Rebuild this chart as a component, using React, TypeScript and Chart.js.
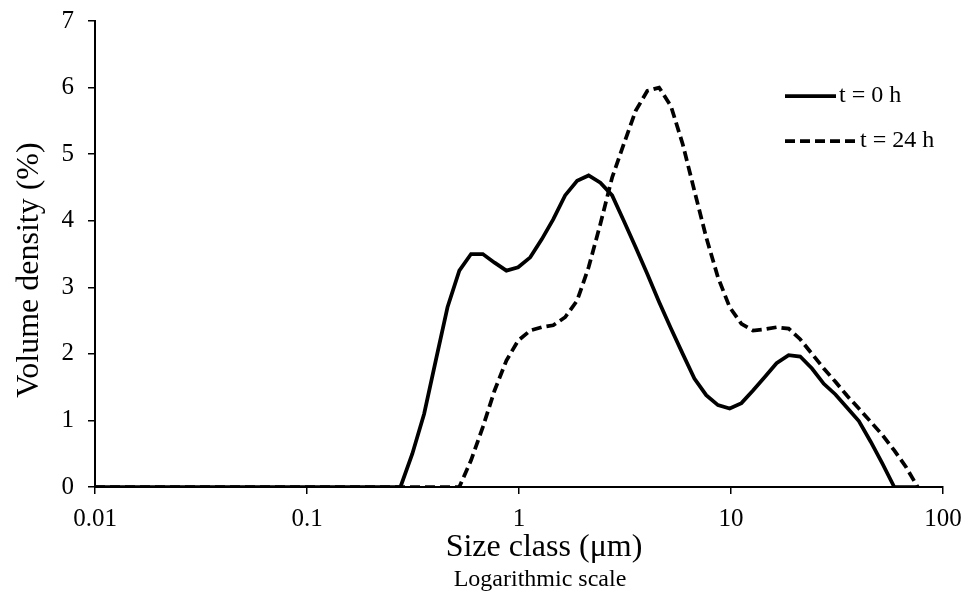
import { useEffect, useRef } from "react";
import { Chart, registerables } from "chart.js";

Chart.register(...registerables);

// Size classes (µm)
const sizes = [
  0.01, 0.0114, 0.0129, 0.0147, 0.0167, 0.0189, 0.0215, 0.0244, 0.0278, 0.0315,
  0.0358, 0.0407, 0.0463, 0.0526, 0.0597, 0.0679, 0.0771, 0.0876, 0.0995, 0.113,
  0.128, 0.146, 0.166, 0.188, 0.214, 0.243, 0.276, 0.314, 0.357, 0.405,
  0.46, 0.523, 0.594, 0.675, 0.767, 0.872, 0.991, 1.13, 1.28, 1.45,
  1.65, 1.88, 2.13, 2.42, 2.75, 3.12, 3.55, 4.03, 4.58, 5.21,
  5.92, 6.72, 7.64, 8.68, 9.86, 11.2, 12.7, 14.5, 16.4, 18.7,
  21.2, 24.1, 27.4, 31.1, 35.3, 40.1, 45.6, 51.8, 58.9, 66.9,
  76.0,
];

// Volume density (%) at t = 0 h
const t0 = [
  0, 0, 0, 0, 0, 0, 0, 0, 0, 0,
  0, 0, 0, 0, 0, 0, 0, 0, 0, 0,
  0, 0, 0, 0, 0, 0, 0, 0.5, 1.1, 1.9,
  2.7, 3.25, 3.5, 3.5, 3.37, 3.25, 3.3, 3.45, 3.72, 4.02,
  4.38, 4.6, 4.68, 4.57, 4.38, 4.0, 3.6, 3.2, 2.78, 2.38,
  2.0, 1.63, 1.38, 1.23, 1.18, 1.26, 1.45, 1.66, 1.86, 1.98,
  1.96, 1.78, 1.55, 1.39, 1.19, 0.99, 0.68, 0.35, 0, 0,
  0,
];

// Volume density (%) at t = 24 h
const t24 = [
  0, 0, 0, 0, 0, 0, 0, 0, 0, 0,
  0, 0, 0, 0, 0, 0, 0, 0, 0, 0,
  0, 0, 0, 0, 0, 0, 0, 0, 0, 0,
  0, 0, 0.4, 0.9, 1.45, 1.9, 2.2, 2.35, 2.4, 2.43,
  2.55, 2.8, 3.3, 3.95, 4.65, 5.15, 5.65, 5.95, 6.0, 5.72,
  5.15, 4.45, 3.75, 3.15, 2.7, 2.45, 2.35, 2.37, 2.4, 2.38,
  2.22, 2.0, 1.78, 1.58, 1.37, 1.18, 0.98, 0.78, 0.55, 0.3,
  0,
];

const seriesNames = ["t = 0 h", "t = 24 h"];
const xTickValues = [0.01, 0.1, 1, 10, 100];
const xTickLabels = ["0.01", "0.1", "1", "10", "100"];
const yMin = 0;
const yMax = 7;
const xTitle = "Size class (μm)";
const xSubtitle = "Logarithmic scale";
const yTitle = "Volume density (%)";

const FONT = "'Liberation Serif', 'Times New Roman', serif";

export default function App() {
  const ref = useRef<HTMLCanvasElement | null>(null);

  useEffect(() => {
    document.body.style.margin = "0";
    const canvas = ref.current;
    if (!canvas) return;

    const legendPlugin = {
      id: "customLegend",
      afterDraw(chart: any) {
        const ctx = chart.ctx;
        const ys = [96, 141];
        const lineEnds = [836, 857];
        const x0 = 785;
        chart.data.datasets.forEach((ds: any, i: number) => {
          ctx.save();
          ctx.strokeStyle = ds.borderColor;
          ctx.lineWidth = ds.borderWidth;
          ctx.setLineDash(ds.borderDash || []);
          ctx.lineCap = "butt";
          ctx.beginPath();
          ctx.moveTo(x0, ys[i]);
          ctx.lineTo(lineEnds[i], ys[i]);
          ctx.stroke();
          ctx.setLineDash([]);
          ctx.fillStyle = "#000";
          ctx.font = `24px ${FONT}`;
          ctx.textBaseline = "middle";
          ctx.textAlign = "left";
          ctx.fillText(ds.label, lineEnds[i] + 3, ys[i]);
          ctx.restore();
        });
      },
    };

    const titlesPlugin = {
      id: "axisTitles",
      afterDraw(chart: any) {
        const ctx = chart.ctx;
        ctx.save();
        ctx.fillStyle = "#000";
        ctx.textAlign = "center";
        ctx.textBaseline = "middle";
        // y title
        ctx.save();
        ctx.translate(30, 270);
        ctx.rotate(-Math.PI / 2);
        ctx.font = `32px ${FONT}`;
        ctx.fillText(yTitle, 0, 0);
        ctx.restore();
        // x title
        ctx.font = `32px ${FONT}`;
        ctx.fillText(xTitle, 544, 548);
        // subtitle
        ctx.font = `24px ${FONT}`;
        ctx.fillText(xSubtitle, 540, 580);
        ctx.restore();
      },
    };

    const chart = new Chart(canvas, {
      type: "line",
      data: {
        datasets: [
          {
            label: seriesNames[0],
            data: sizes.map((s, i) => ({ x: s, y: t0[i] })),
            borderColor: "#000",
            borderWidth: 3.75,
            pointRadius: 0,
            pointHoverRadius: 0,
            pointBorderWidth: 0,
            tension: 0,
            fill: false,
          },
          {
            label: seriesNames[1],
            data: sizes.map((s, i) => ({ x: s, y: t24[i] })),
            borderColor: "#000",
            borderWidth: 3.75,
            borderDash: [10, 5],
            pointRadius: 0,
            pointHoverRadius: 0,
            pointBorderWidth: 0,
            tension: 0,
            fill: false,
          },
        ],
      },
      options: {
        responsive: false,
        animation: false,
        layout: { autoPadding: false, padding: { left: 0, right: 26, top: 21, bottom: 0 } },
        plugins: {
          legend: { display: false },
          tooltip: { enabled: false },
          title: { display: false },
        },
        scales: {
          x: {
            type: "logarithmic",
            min: xTickValues[0],
            max: xTickValues[xTickValues.length - 1],
            afterBuildTicks: (scale: any) => {
              scale.ticks = xTickValues.map((v) => ({ value: v }));
            },
            afterFit: (scale: any) => {
              scale.height = 111;
              scale.paddingRight = 0;
              scale.paddingLeft = 0;
            },
            ticks: {
              autoSkip: false,
              maxRotation: 0,
              color: "#000",
              padding: 10,
              font: { family: FONT, size: 25 },
              callback: (value: any) => {
                const idx = xTickValues.findIndex((v) => Math.abs(v - Number(value)) < v * 1e-6);
                return idx >= 0 ? xTickLabels[idx] : "";
              },
            },
            grid: {
              display: true,
              drawOnChartArea: false,
              drawTicks: true,
              tickLength: 7,
              color: "#000",
              lineWidth: 1.5,
            },
            border: { display: true, color: "#000", width: 2 },
          },
          y: {
            type: "linear",
            min: yMin,
            max: yMax,
            afterFit: (scale: any) => {
              scale.width = 95;
              scale.paddingTop = 0;
              scale.paddingBottom = 0;
            },
            ticks: {
              stepSize: 1,
              color: "#000",
              padding: 14,
              font: { family: FONT, size: 25 },
            },
            grid: {
              display: true,
              drawOnChartArea: false,
              drawTicks: true,
              tickLength: 7,
              color: "#000",
              lineWidth: 1.5,
            },
            border: { display: true, color: "#000", width: 2 },
          },
        },
      },
      plugins: [legendPlugin, titlesPlugin],
    } as any);

    return () => chart.destroy();
  }, []);

  return (
    <div style={{ width: 969, height: 598 }}>
      <canvas ref={ref} width={969} height={598} style={{ display: "block" }} />
    </div>
  );
}
